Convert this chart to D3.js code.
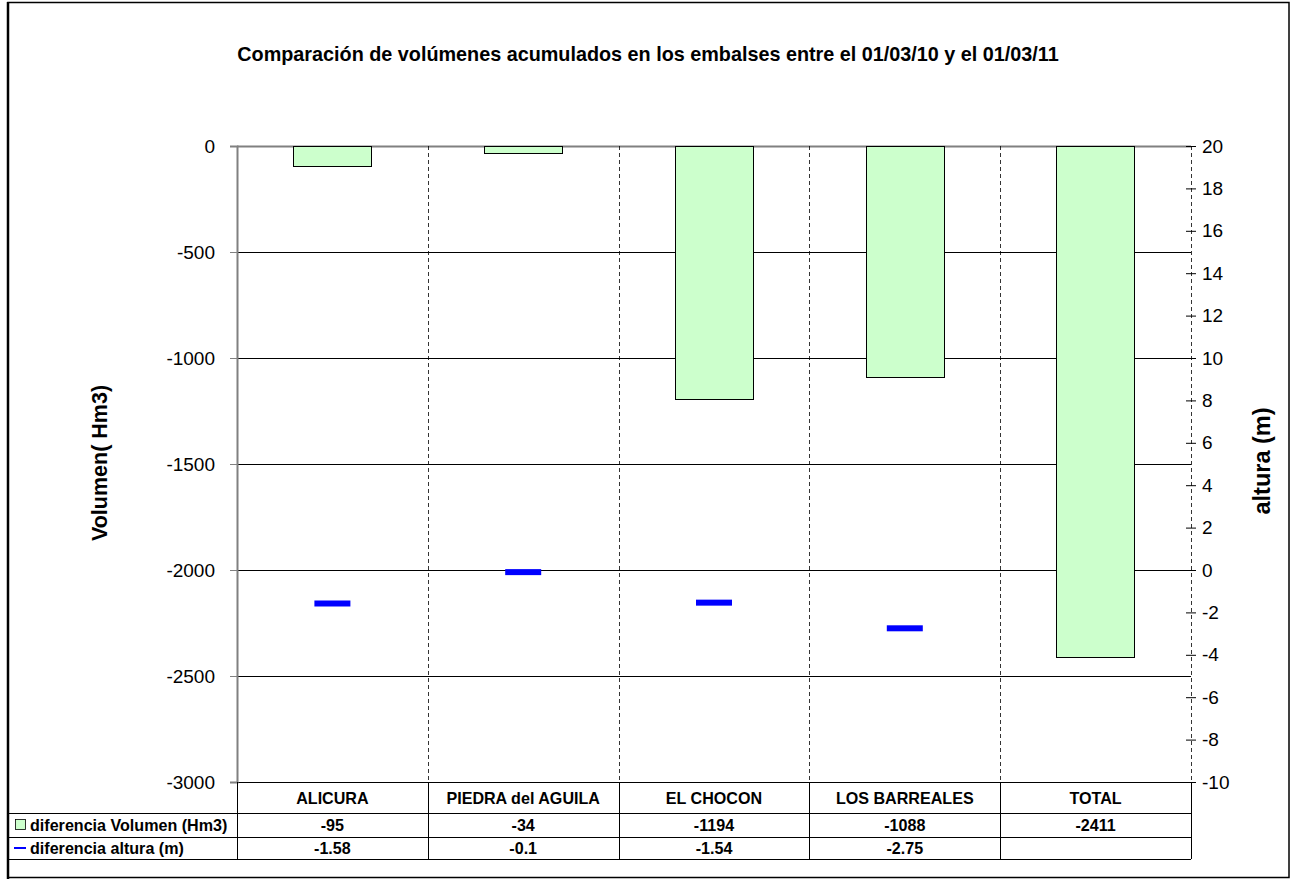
<!DOCTYPE html>
<html><head><meta charset="utf-8">
<script src="https://cdn.jsdelivr.net/npm/d3@7"></script>
<style>body{margin:0;background:#fff}svg{display:block;font-family:Arial,"Liberation Sans",sans-serif}</style>
</head><body>
<script>
const categories = ["ALICURA","PIEDRA del AGUILA","EL CHOCON","LOS BARREALES","TOTAL"];
const volumen = [-95,-34,-1194,-1088,-2411];
const altura = [-1.58,-0.1,-1.54,-2.75,null];
const leftTicks = [0,-500,-1000,-1500,-2000,-2500,-3000];
const rightTicks = [20,18,16,14,12,10,8,6,4,2,0,-2,-4,-6,-8,-10];
const seriesNames = ["diferencia Volumen (Hm3)","diferencia altura (m)"];
const title = "Comparación de volúmenes acumulados en los embalses entre el 01/03/10 y el 01/03/11";

const W=1297,H=879;
const L=237,R=1191,T=146,B=782;
const svg=d3.select("body").append("svg").attr("width",W).attr("height",H);

// frame
svg.append("rect").attr("x",8).attr("y",2.5).attr("width",1281).attr("height",875).attr("fill","none").attr("stroke","#000").attr("stroke-width",1.5);
svg.append("line").attr("x1",8).attr("x2",8).attr("y1",2).attr("y2",879).attr("stroke","#000").attr("stroke-width",2.5);

const x=d3.scaleBand().domain(categories).range([L,R]).paddingInner(0).paddingOuter(0);
const yL=d3.scaleLinear().domain([-3000,0]).range([B,T]);
const yR=d3.scaleLinear().domain([-10,20]).range([B,T]);

svg.append("text").attr("x",648).attr("y",61).attr("text-anchor","middle").attr("font-weight","bold").attr("font-size",19.8).text(title);

// gridlines
svg.append("g").selectAll("line").data(leftTicks).join("line")
 .attr("x1",L).attr("x2",R).attr("y1",d=>yL(d)+0.5).attr("y2",d=>yL(d)+0.5)
 .attr("stroke",d=>d===0?"#808080":"#000").attr("stroke-width",d=>d===0?2:1);

// category dividers dashed
svg.append("g").selectAll("line").data(categories.slice(1)).join("line")
 .attr("x1",d=>Math.round(x(d))+0.5).attr("x2",d=>Math.round(x(d))+0.5).attr("y1",T).attr("y2",B)
 .attr("stroke","#000").attr("stroke-dasharray","4,3").attr("stroke-width",0.8);

// bars
const bw=x.bandwidth()*0.41;
svg.append("g").selectAll("rect").data(volumen).join("rect")
 .attr("x",(d,i)=>Math.round(x(categories[i])+x.bandwidth()/2-bw/2)+0.5)
 .attr("width",Math.round(bw))
 .attr("y",yL(0)+0.5).attr("height",d=>Math.round(yL(d)-yL(0)))
 .attr("fill","#ccffcc").attr("stroke","#000").attr("stroke-width",1);

// markers
const mw=36;
svg.append("g").selectAll("rect").data(altura.map((v,i)=>({v,c:categories[i]})).filter(d=>d.v!==null)).join("rect")
 .attr("x",d=>x(d.c)+x.bandwidth()/2-mw/2).attr("width",mw)
 .attr("y",d=>yR(d.v)-3).attr("height",6).attr("fill","#0000ff");

// left axis
const gl=svg.append("g").attr("transform",`translate(${L},0)`)
 .call(d3.axisLeft(yL).tickValues(leftTicks).tickSize(7).tickPadding(15).tickFormat(d=>String(d)));
gl.select(".domain").attr("stroke","#808080").attr("stroke-width",2);
gl.selectAll(".tick line").attr("stroke","#808080");
gl.selectAll("text").attr("font-size",19).attr("fill","#000").attr("font-family","Arial,'Liberation Sans',sans-serif");

// right axis
const gr=svg.append("g").attr("transform",`translate(${R},0)`)
 .call(d3.axisRight(yR).tickValues(rightTicks).tickSize(5).tickPadding(6).tickFormat(d=>String(d)));
gr.select(".domain").attr("stroke","#000").attr("stroke-dasharray","4,3").attr("stroke-width",0.8);
gr.selectAll(".tick line").attr("x1",-5).attr("stroke","#000");
gr.selectAll("text").attr("font-size",19).attr("fill","#000").attr("font-family","Arial,'Liberation Sans',sans-serif");

// axis titles
svg.append("text").attr("transform",`translate(107,463) rotate(-90)`).attr("text-anchor","middle")
 .attr("font-weight","bold").attr("font-size",21.5).text("Volumen( Hm3)");
svg.append("text").attr("transform",`translate(1270,461) rotate(-90)`).attr("text-anchor","middle")
 .attr("font-weight","bold").attr("font-size",23.5).text("altura (m)");

// data table
const rows=[B,813,837,859];
const fs=16.1;
const tg=svg.append("g");
tg.selectAll("line.h").data(rows.slice(1)).join("line").attr("class","h")
 .attr("x1",8).attr("x2",R).attr("y1",d=>d+0.5).attr("y2",d=>d+0.5).attr("stroke","#000");
const vx=[L].concat(categories.map(c=>x(c)+x.bandwidth()));
tg.selectAll("line.v").data(vx).join("line").attr("class","v")
 .attr("x1",d=>Math.round(d)+0.5).attr("x2",d=>Math.round(d)+0.5).attr("y1",B).attr("y2",rows[3])
 .attr("stroke","#000");
tg.selectAll("text.hd").data(categories).join("text").attr("class","hd")
 .attr("x",d=>x(d)+x.bandwidth()/2).attr("y",(rows[0]+rows[1])/2+6).attr("text-anchor","middle")
 .attr("font-weight","bold").attr("font-size",fs).text(d=>d);
tg.selectAll("text.v1").data(volumen).join("text").attr("class","v1")
 .attr("x",(d,i)=>x(categories[i])+x.bandwidth()/2).attr("y",(rows[1]+rows[2])/2+6).attr("text-anchor","middle")
 .attr("font-weight","bold").attr("font-size",fs).text(d=>d);
tg.selectAll("text.v2").data(altura).join("text").attr("class","v2")
 .attr("x",(d,i)=>x(categories[i])+x.bandwidth()/2).attr("y",(rows[2]+rows[3])/2+6).attr("text-anchor","middle")
 .attr("font-weight","bold").attr("font-size",fs).text(d=>d===null?"":d);
tg.append("rect").attr("x",15.5).attr("y",(rows[1]+rows[2])/2-5.5).attr("width",10).attr("height",10).attr("fill","#ccffcc").attr("stroke","#000").attr("stroke-width",0.8);
tg.append("line").attr("x1",14).attr("x2",26).attr("y1",(rows[2]+rows[3])/2).attr("y2",(rows[2]+rows[3])/2).attr("stroke","#0000ff").attr("stroke-width",2);
tg.selectAll("text.rl").data(seriesNames).join("text").attr("class","rl")
 .attr("x",30).attr("y",(d,i)=>(rows[i+1]+rows[i+2])/2+6)
 .attr("font-weight","bold").attr("font-size",fs).text(d=>d);
</script>
</body></html>
